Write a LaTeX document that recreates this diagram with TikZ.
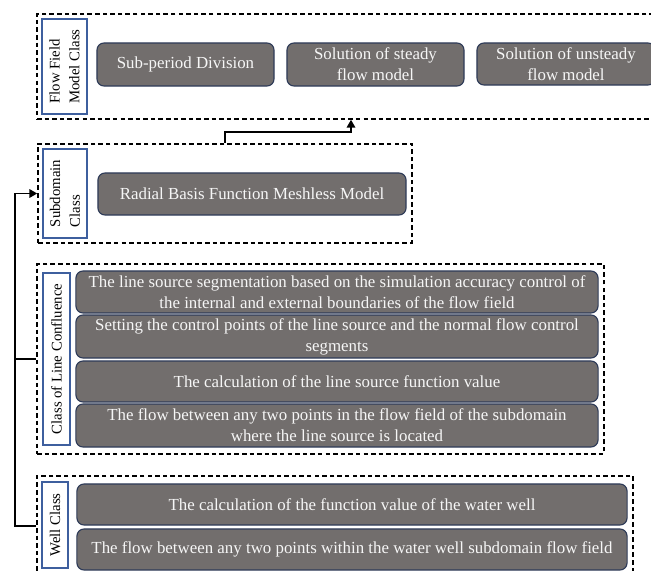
\documentclass[tikz,border=0pt]{standalone}
\usepackage{fontspec}
\setmainfont{Liberation Serif}
\usetikzlibrary{arrows.meta,positioning,fit}
\definecolor{boxgray}{HTML}{726E6D}
\definecolor{boxedge}{HTML}{2E3B58}
\definecolor{tagblue}{HTML}{3E5F9E}
\definecolor{boxtext}{HTML}{F6F6F6}
\tikzset{
  groupframe/.style={draw=black,line width=1.1pt,dash pattern=on 3.2pt off 2.2pt,inner sep=0pt},
  taskbox/.style={draw=boxedge,line width=0.8pt,fill=boxgray,rounded corners=5pt,text=boxtext,align=center,inner sep=0pt,font=\fontsize{12}{15}\selectfont},
  classtag/.style={draw=tagblue,line width=1pt,fill=white,inner sep=0pt},
  classtext/.style={rotate=90,align=left,font=\fontsize{10.5}{14}\selectfont},
  flowline/.style={line width=1.1pt},
  flowarrow/.style={-{Triangle[length=5.5pt,width=6pt]},line width=1.1pt}
}

\begin{document}
\begin{tikzpicture}[x=0.025cm,y=-0.025cm]
  \useasboundingbox (0,0) rectangle (651,571);
  \clip (0,0) rectangle (651,571);
  % class frames
  \node[groupframe,fit={(37,14) (665,119)}] (flowgrp) {};
  \node[groupframe,fit={(38,144) (412,243)}] (subgrp) {};
  \node[groupframe,fit={(37,264) (604,454)}] (lcgrp) {};
  \node[groupframe,fit={(37,476) (633,576)}] (wellgrp) {};
  % flow field model class
  \node[classtag,fit={(42,19) (87,114)}] (flowtag) {};
  \node[classtext] (flowtagtext) at (flowtag.center) {Flow Field\\Model Class};
  \node[taskbox,minimum width=4.425cm,minimum height=1.075cm] (subdiv) at (185.5,64.5) {Sub-period Division};
  \node[taskbox,minimum width=4.425cm,minimum height=1.075cm] (steady) at (375.5,64.5) {Solution of steady\\flow model};
  \node[taskbox,minimum width=4.45cm,minimum height=1.05cm] (unsteady) at (566,64) {Solution of unsteady\\flow model};
  % subdomain class
  \node[classtag,fit={(43,149) (87,238)}] (subtag) {};
  \node[classtext] (subtagtext) at (subtag.center) {Subdomain\\Class};
  \node[taskbox,minimum width=7.7cm,minimum height=1.05cm] (rbf) at (252,194) {Radial Basis Function Meshless Model};
  % class of line confluence
  \node[classtag,fit={(43,273) (70,445)}] (lctag) {};
  \node[classtext] (lctagtext) at (lctag.center) {Class of Line Confluence};
  \node[taskbox,minimum width=13.05cm,minimum height=1.05cm] (lcseg) at (337,292) {The line source segmentation based on the simulation accuracy control of\\the internal and external boundaries of the flow field};
  \node[taskbox,minimum width=13.05cm,minimum height=1.075cm] (lcctrl) at (337,336.5) {Setting the control points of the line source and the normal flow control\\segments};
  \node[taskbox,minimum width=13.05cm,minimum height=1.025cm] (lcfunc) at (337,381.5) {The calculation of the line source function value};
  \node[taskbox,minimum width=13.05cm,minimum height=1.075cm] (lcflow) at (337,425.5) {The flow between any two points in the flow field of the subdomain\\where the line source is located};
  % well class
  \node[classtag,fit={(42,482) (68,568)}] (welltag) {};
  \node[classtext] (welltagtext) at (welltag.center) {Well Class};
  \node[taskbox,minimum width=13.75cm,minimum height=1.025cm] (wellfunc) at (352,504.5) {The calculation of the function value of the water well};
  \node[taskbox,minimum width=13.75cm,minimum height=1.025cm] (wellflow) at (352,549.5) {The flow between any two points within the water well subdomain flow field};
  % connectors
  \coordinate (spine) at (15,0);
  \draw[flowarrow] (subgrp.north) -- ++(0,-11) -| (flowgrp.south);
  \draw[flowarrow] (wellgrp.west) -| (spine |- subgrp.west) -- (subgrp.west);
  \draw[flowline] (lcgrp.west) -- (spine |- lcgrp.west);
\end{tikzpicture}
\end{document}
